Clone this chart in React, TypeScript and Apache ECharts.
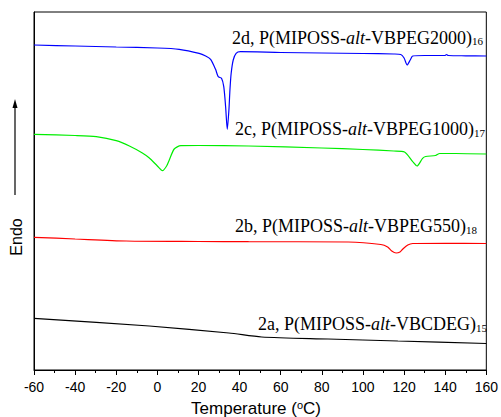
import React, { useEffect, useRef } from "react";
import * as echarts from "echarts";

// Temperature (°C) and heat-flow (arbitrary units, offset per curve)
const t2d = [-60, -40, -20, 0, 10.6, 20.3, 23.5, 25.9, 28.3, 29.6, 31.2, 32.3, 33.2, 34.0, 34.8, 35.3, 35.9, 36.9, 38.3, 40.4, 60, 80, 100, 115, 118.4, 120, 121.5, 123, 124.2, 130, 140, 140.6, 141.5, 150, 160];
const v2d = [325, 324, 323, 322, 320.7, 316.7, 314, 310.7, 300.7, 293.3, 291.7, 283.3, 263.3, 240.7, 260, 280, 296.7, 310, 316.7, 318.3, 317.5, 317, 316.5, 316, 315.5, 312, 305, 310, 314, 314.5, 314.5, 315.5, 314.5, 314.2, 314];

const t2c = [-60, -40, -29.7, -20, -13.6, -7.3, -3.9, 0, 2.5, 4.5, 5.8, 8.2, 11.4, 20, 44.4, 80, 100, 115, 120.2, 124.2, 126.3, 129, 130.5, 135.3, 137.3, 145, 160];
const v2c = [235.7, 234.5, 233.3, 229.3, 224, 217, 212, 204, 199.3, 204, 210, 221, 224.3, 224.5, 224, 222, 220.5, 219, 218, 208.3, 204, 211.7, 213.5, 214.5, 216.5, 216.5, 216];

const t2b = [-60, -40, -15.2, 20, 44.4, 92.8, 108.7, 112, 114, 116.1, 118, 119.4, 121.8, 124.2, 140, 160];
const v2b = [132.7, 131, 129, 128.5, 128.3, 128, 125.5, 123, 119, 117, 118, 121, 125, 126.5, 126.7, 126.5];

const t2a = [-60, -3.9, 34.8, 50.7, 83, 117, 160];
const v2a = [51.7, 44, 37, 33, 31, 29, 26.5];

const seriesNames = ["2d", "2c", "2b", "2a"];
const seriesColors = ["#0000ff", "#00ee00", "#ff0000", "#000000"];
const labelMain = [
  ["2d, P(MIPOSS-", "alt", "-VBPEG2000)", "16"],
  ["2c, P(MIPOSS-", "alt", "-VBPEG1000)", "17"],
  ["2b, P(MIPOSS-", "alt", "-VBPEG550)", "18"],
  ["2a, P(MIPOSS-", "alt", "-VBCDEG)", "15"],
];

const zip = (xs: number[], ys: number[]) => xs.map((x, i) => [x, ys[i]]);

export default function App() {
  const ref = useRef<HTMLDivElement>(null);
  useEffect(() => {
    if (!ref.current) return;
    document.body.style.margin = "0";
    const chart = echarts.init(ref.current, null, { renderer: "svg" });
    const serif = "'Liberation Serif', 'Times New Roman', serif";
    const sans = "'Liberation Sans', Arial, sans-serif";
    const rich = {
      n: { fontFamily: serif, fontSize: 18, lineHeight: 18, verticalAlign: "top", color: "#000" },
      i: { fontFamily: serif, fontSize: 18, lineHeight: 18, fontStyle: "italic", verticalAlign: "top", color: "#000" },
      s: { fontFamily: serif, fontSize: 11, lineHeight: 11, padding: [10, 0, 0, 0], verticalAlign: "bottom", color: "#000" },
    };
    const labelPos = [
      [232, 28.5],
      [235, 120],
      [235, 217],
      [258, 315],
    ];
    const labels = labelMain.map((p, k) => ({
      type: "text",
      x: labelPos[k][0],
      y: labelPos[k][1],
      style: {
        text: `{n|${p[0]}}{i|${p[1]}}{n|${p[2]}}{s|${p[3]}}`,
        rich,
        align: "left",
        verticalAlign: "top",
      },
    }));
    const data = [zip(t2d, v2d), zip(t2c, v2c), zip(t2b, v2b), zip(t2a, v2a)];
    chart.setOption({
      animation: false,
      grid: { left: 34, right: 12, top: 12, bottom: 47, show: true, borderColor: "#000", borderWidth: 1 },
      xAxis: {
        type: "value",
        min: -60,
        max: 160,
        interval: 20,
        axisLine: { onZero: false, lineStyle: { color: "#000", width: 1 } },
        axisTick: { show: true, inside: false, length: 5, lineStyle: { color: "#000" } },
        minorTick: { show: true, splitNumber: 2, length: 3, lineStyle: { color: "#000" } },
        splitLine: { show: false },
        axisLabel: { color: "#000", fontSize: 14, fontFamily: sans, margin: 10 },
      },
      yAxis: {
        type: "value",
        min: 0,
        max: 358,
        axisLine: { show: true, onZero: false, lineStyle: { color: "#000", width: 1 } },
        axisTick: { show: false },
        axisLabel: { show: false },
        splitLine: { show: false },
      },
      series: data.map((d, k) => ({
        name: seriesNames[k],
        type: "line",
        data: d,
        showSymbol: false,
        smooth: 0.25,
        lineStyle: { color: seriesColors[k], width: 1.2 },
      })),
      graphic: [
        ...labels,
        {
          type: "text",
          x: 256,
          y: 408,
          style: {
            text: "{a|Temperature (}{s|o}{a|C)}",
            align: "center",
            verticalAlign: "middle",
            rich: {
              a: { fontFamily: sans, fontSize: 17, lineHeight: 17, padding: [5, 0, 0, 0], verticalAlign: "bottom", color: "#000" },
              s: { fontFamily: sans, fontSize: 11, lineHeight: 11, verticalAlign: "top", color: "#000" },
            },
          },
        },
        {
          type: "text",
          x: 16,
          y: 237,
          rotation: Math.PI / 2,
          style: { text: "Endo", fontFamily: sans, fontSize: 16, fill: "#000", align: "center", verticalAlign: "middle" },
        },
        {
          type: "line",
          shape: { x1: 15, y1: 195, x2: 15, y2: 106 },
          style: { stroke: "#000", lineWidth: 1.2 },
        },
        {
          type: "polygon",
          shape: { points: [[15, 99], [12.5, 108], [17.5, 108]] },
          style: { fill: "#000" },
        },
      ],
    });
    return () => chart.dispose();
  }, []);
  return <div ref={ref} style={{ width: 501, height: 417 }} />;
}
